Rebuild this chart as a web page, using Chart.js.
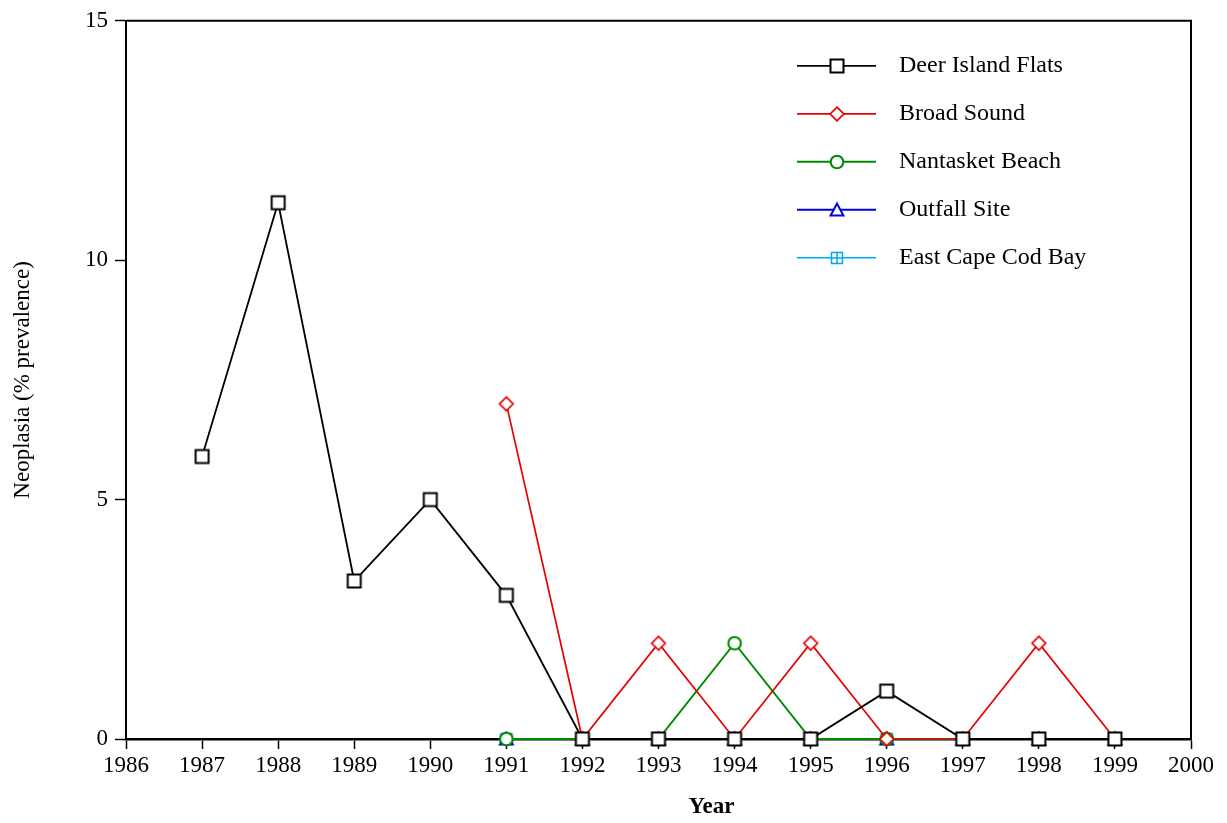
<!DOCTYPE html>
<html>
<head>
<meta charset="utf-8">
<script src="https://cdn.jsdelivr.net/npm/chart.js@4.4.0/dist/chart.umd.min.js"></script>
<style>
html,body{margin:0;padding:0;background:#fff;}
#wrap{width:1227px;height:823px;position:relative;}
</style>
</head>
<body>
<div id="wrap"><canvas id="c"></canvas></div>
<script>
// ---- data ----
const deerYears   = [1987, 1988, 1989, 1990, 1991, 1992, 1993, 1994, 1995, 1996, 1997, 1998, 1999];
const deerIsland  = [5.9, 11.2, 3.3, 5.0, 3.0, 0, 0, 0, 0, 1.0, 0, 0, 0];
const siteYears   = [1991, 1992, 1993, 1994, 1995, 1996, 1997, 1998, 1999];
const broadSound  = [7.0, 0, 2.0, 0, 2.0, 0, 0, 2.0, 0];
const nantasket   = [0, 0, 0, 2.0, 0, 0, 0, 0, 0];
const outfall     = [0, 0, 0, 0, 0, 0, 0, 0, 0];
const capeCodBay  = [0, 0, 0, 0, 0, 0, 0, 0, 0];
const seriesNames = ['Deer Island Flats', 'Broad Sound', 'Nantasket Beach', 'Outfall Site', 'East Cape Cod Bay'];
const xTickValues = [1986, 1987, 1988, 1989, 1990, 1991, 1992, 1993, 1994, 1995, 1996, 1997, 1998, 1999, 2000];
const yTickValues = [0, 5, 10, 15];
const xTitle = 'Year';
const yTitle = 'Neoplasia (% prevalence)';

// ---- styling ----
const FONT = '"Liberation Serif", "Times New Roman", serif';
const colors = ['#000000', '#e60000', '#008a00', '#0000e0', '#00a8f0'];

function makeMarker(kind, color) {
  const S = 20, c = S / 2;
  const cv = document.createElement('canvas');
  cv.width = S; cv.height = S;
  const g = cv.getContext('2d');
  g.strokeStyle = color; g.fillStyle = '#fff';
  g.lineJoin = 'miter';
  g.beginPath();
  if (kind === 'square') {
    g.lineWidth = 2;
    g.rect(c - 6.5, c - 6.5, 13, 13);
    g.fill(); g.stroke();
  } else if (kind === 'diamond') {
    g.lineWidth = 1.7;
    g.moveTo(c, c - 6.8); g.lineTo(c + 6.8, c); g.lineTo(c, c + 6.8); g.lineTo(c - 6.8, c); g.closePath();
    g.fill(); g.stroke();
  } else if (kind === 'circle') {
    g.lineWidth = 2.1;
    g.arc(c, c, 6.3, 0, Math.PI * 2);
    g.fill(); g.stroke();
  } else if (kind === 'triangle') {
    g.lineWidth = 2;
    g.moveTo(c, c - 6.4); g.lineTo(c + 6.4, c + 5.6); g.lineTo(c - 6.4, c + 5.6); g.closePath();
    g.fill(); g.stroke();
  } else if (kind === 'boxplus') {
    g.lineWidth = 1.5;
    g.rect(c - 5.5, c - 5.5, 11, 11);
    g.fill(); g.stroke();
    g.beginPath();
    g.moveTo(c, c - 5.5); g.lineTo(c, c + 5.5);
    g.moveTo(c - 5.5, c); g.lineTo(c + 5.5, c);
    g.stroke();
  }
  return cv;
}

const markers = [
  makeMarker('square', colors[0]),
  makeMarker('diamond', colors[1]),
  makeMarker('circle', colors[2]),
  makeMarker('triangle', colors[3]),
  makeMarker('boxplus', colors[4])
];
const lineWidths = [1.8, 1.7, 2, 2, 1.6];

function pts(xs, ys) { return xs.map((x, i) => ({ x: x, y: ys[i] })); }
const seriesData = [
  pts(deerYears, deerIsland),
  pts(siteYears, broadSound),
  pts(siteYears, nantasket),
  pts(siteYears, outfall),
  pts(siteYears, capeCodBay)
];

const datasets = seriesNames.map((name, i) => ({
  label: name,
  data: seriesData[i],
  borderColor: colors[i],
  backgroundColor: '#fff',
  borderWidth: lineWidths[i],
  pointStyle: markers[i],
  pointRadius: 7,
  pointHoverRadius: 7,
  tension: 0,
  clip: false
}));

const framePlugin = {
  id: 'frame',
  beforeDatasetsDraw(chart) {
    const { ctx, chartArea: a } = chart;
    ctx.save();
    ctx.strokeStyle = '#000';
    ctx.lineWidth = 2;
    ctx.beginPath();
    ctx.moveTo(a.left, a.top); ctx.lineTo(a.right, a.top); ctx.lineTo(a.right, a.bottom);
    ctx.stroke();
    ctx.restore();
  }
};

// x-axis title, drawn slightly right of centre as in the original figure
const xTitlePlugin = {
  id: 'xTitle',
  afterDraw(chart) {
    const { ctx, chartArea: a } = chart;
    ctx.save();
    ctx.fillStyle = '#000';
    ctx.font = 'bold 23px ' + FONT;
    ctx.textAlign = 'center';
    ctx.textBaseline = 'middle';
    ctx.fillText(xTitle, (a.left + a.right) / 2 + 53, a.bottom + 68);
    ctx.restore();
  }
};

const legendPlugin = {
  id: 'customLegend',
  afterDraw(chart) {
    const { ctx, chartArea: a } = chart;
    const x0 = a.right - 394, x1 = a.right - 315, xm = (x0 + x1) / 2, xt = a.right - 292;
    const y0 = a.top + 45, dy = 48;
    ctx.save();
    chart.data.datasets.forEach((ds, i) => {
      const y = y0 + i * dy;
      ctx.strokeStyle = ds.borderColor;
      ctx.lineWidth = ds.borderWidth;
      ctx.beginPath(); ctx.moveTo(x0, y); ctx.lineTo(x1, y); ctx.stroke();
      const m = ds.pointStyle;
      ctx.drawImage(m, Math.round(xm - m.width / 2), Math.round(y - m.height / 2));
      ctx.fillStyle = '#000';
      ctx.font = '24px ' + FONT;
      ctx.textBaseline = 'middle';
      ctx.textAlign = 'left';
      ctx.fillText(ds.label, xt, y);
    });
    ctx.restore();
  }
};

new Chart(document.getElementById('c'), {
  type: 'line',
  data: { datasets: datasets },
  plugins: [framePlugin, legendPlugin, xTitlePlugin],
  options: {
    responsive: true,
    maintainAspectRatio: false,
    animation: false,
    devicePixelRatio: 1,
    layout: { padding: { top: 20, right: 36, left: 0, bottom: 0 } },
    plugins: { legend: { display: false }, tooltip: { enabled: false } },
    events: [],
    scales: {
      x: {
        type: 'linear',
        min: xTickValues[0],
        max: xTickValues[xTickValues.length - 1],
        afterBuildTicks: s => { s.ticks = xTickValues.map(v => ({ value: v })); },
        afterFit: s => { s.height = 84; },
        ticks: {
          autoSkip: false, maxRotation: 0, padding: 3, color: '#000',
          font: { family: FONT, size: 23 },
          callback: v => String(v)
        },
        grid: { drawOnChartArea: false, drawTicks: true, tickLength: 10, tickColor: '#000', tickWidth: 1.5 },
        border: { display: true, color: '#000', width: 2.5 },
        title: { display: false }
      },
      y: {
        type: 'linear',
        min: yTickValues[0],
        max: yTickValues[yTickValues.length - 1],
        afterBuildTicks: s => { s.ticks = yTickValues.map(v => ({ value: v })); },
        afterFit: s => { s.width = 126; },
        ticks: {
          padding: 7, color: '#000',
          font: { family: FONT, size: 23 },
          callback: v => String(v)
        },
        grid: { drawOnChartArea: false, drawTicks: true, tickLength: 11, tickColor: '#000', tickWidth: 1.5 },
        border: { display: true, color: '#000', width: 2 },
        title: {
          display: true, text: yTitle, color: '#000',
          font: { family: FONT, size: 23 },
          padding: { top: 9, bottom: 0 }
        }
      }
    }
  }
});
</script>
</body>
</html>
